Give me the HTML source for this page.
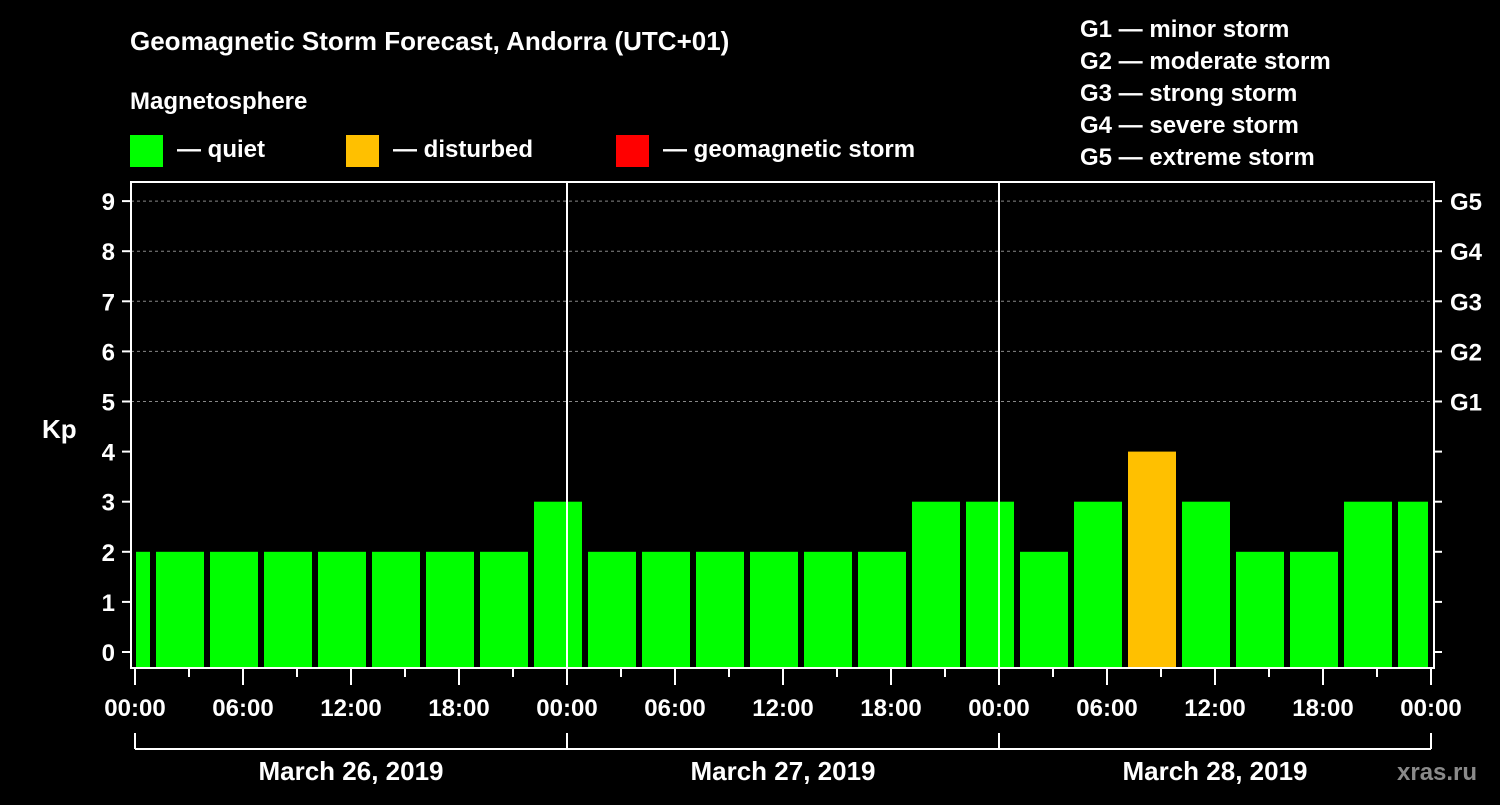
<!DOCTYPE html>
<html><head><meta charset="utf-8"><style>
body{margin:0;background:#000;width:1500px;height:800px;overflow:hidden}
svg text{font-family:"Liberation Sans",sans-serif;font-weight:bold;fill:#fff}
</style></head><body>
<svg id="c" width="1500" height="800">
<text x="130" y="50" font-size="26">Geomagnetic Storm Forecast, Andorra (UTC+01)</text>
<text x="130" y="109" font-size="24">Magnetosphere</text>
<g><rect x="130" y="135" width="33" height="32" fill="#00ff00"/><text x="177" y="157" font-size="24">— quiet</text></g>
<g><rect x="346" y="135" width="33" height="32" fill="#ffc000"/><text x="393" y="157" font-size="24">— disturbed</text></g>
<g><rect x="616" y="135" width="33" height="32" fill="#ff0000"/><text x="663" y="157" font-size="24">— geomagnetic storm</text></g>
<g font-size="24">
<text x="1080" y="37">G1 — minor storm</text><text x="1080" y="69">G2 — moderate storm</text><text x="1080" y="101">G3 — strong storm</text><text x="1080" y="133">G4 — severe storm</text><text x="1080" y="165">G5 — extreme storm</text></g>
<text x="42" y="438" font-size="26">Kp</text>
<text x="1397" y="780" font-size="24" fill="#888" style="fill:#8a8a8a">xras.ru</text>
<g id="grid"></g><g id="bars"></g><g id="axes"></g>
</svg>
<script>
const barValues=[2,2,2,2,2,2,2,2,3,2,2,2,2,2,2,3,3,2,3,4,3,2,2,3,3];
const yTicks=[0,1,2,3,4,5,6,7,8,9];
const gLabels=["G1","G2","G3","G4","G5"];
const hourLabels=["00:00","06:00","12:00","18:00"];
const dayLabels=["March 26, 2019","March 27, 2019","March 28, 2019"];
const NS="http://www.w3.org/2000/svg";
const X0=135,PXH=18,L=131,R=1434,T=182,B=668;
const x=h=>X0+h*PXH, y=v=>652-v*50.1;
function mk(p,t,a){const e=document.createElementNS(NS,t);for(const k in a)e.setAttribute(k,a[k]);p.appendChild(e);return e;}
const grid=document.getElementById('grid'),bars=document.getElementById('bars'),ax=document.getElementById('axes');
yTicks.forEach(v=>{
 if(v>=5){const l=mk(grid,'line',{x1:L,x2:R,y1:y(v),y2:y(v),stroke:'#888','stroke-dasharray':'3,3','stroke-width':1});
 
 }
 const t=mk(ax,'text',{x:115,y:y(v)+9,'font-size':24,'text-anchor':'end'});t.textContent=v;
 
 
 mk(ax,'line',{x1:122,x2:L,y1:y(v),y2:y(v),stroke:'#fff','stroke-width':2});
 mk(ax,'line',{x1:R,x2:1442,y1:y(v),y2:y(v),stroke:'#fff','stroke-width':2});
});
gLabels.forEach((g,i)=>{const t=mk(ax,'text',{x:1450,y:y(i+5)+9,'font-size':24});t.textContent=g;
 
 });
barValues.forEach((v,i)=>{
 const h0=-2+3*i,h1=h0+3;
 const xa=Math.max(x(h0)+3,136),xb=Math.min(x(h1)-3,1428);
 const col=v>=5?'#ff0000':(v>=4?'#ffc000':'#00ff00');
 const r=mk(bars,'rect',{x:xa,y:y(v),width:xb-xa,height:B-y(v),fill:col});
 
 
});
[1,2].forEach(d=>mk(ax,'line',{x1:x(24*d),x2:x(24*d),y1:T,y2:B,stroke:'#fff','stroke-width':2}));
mk(ax,'rect',{x:L,y:T,width:R-L,height:B-T,fill:'none',stroke:'#fff','stroke-width':2});
for(let h=0;h<=72;h+=3){mk(ax,'line',{x1:x(h),x2:x(h),y1:B,y2:h%6?677:685,stroke:'#fff','stroke-width':2});}
for(let d=0;d<=3;d++){hourLabels.forEach((lab,j)=>{if(d==3&&j>0)return;
 const t=mk(ax,'text',{x:x(24*d+6*j),y:716,'font-size':24,'text-anchor':'middle'});t.textContent=lab;
 
 });}
mk(ax,'line',{x1:x(0),x2:x(72),y1:749,y2:749,stroke:'#fff','stroke-width':2});
for(let d=0;d<=3;d++)mk(ax,'line',{x1:x(24*d),x2:x(24*d),y1:733,y2:749,stroke:'#fff','stroke-width':2});
dayLabels.forEach((lab,d)=>{const t=mk(ax,'text',{x:x(24*d+12),y:780,'font-size':26,'text-anchor':'middle'});t.textContent=lab;
 
 });
</script>
</body></html>
